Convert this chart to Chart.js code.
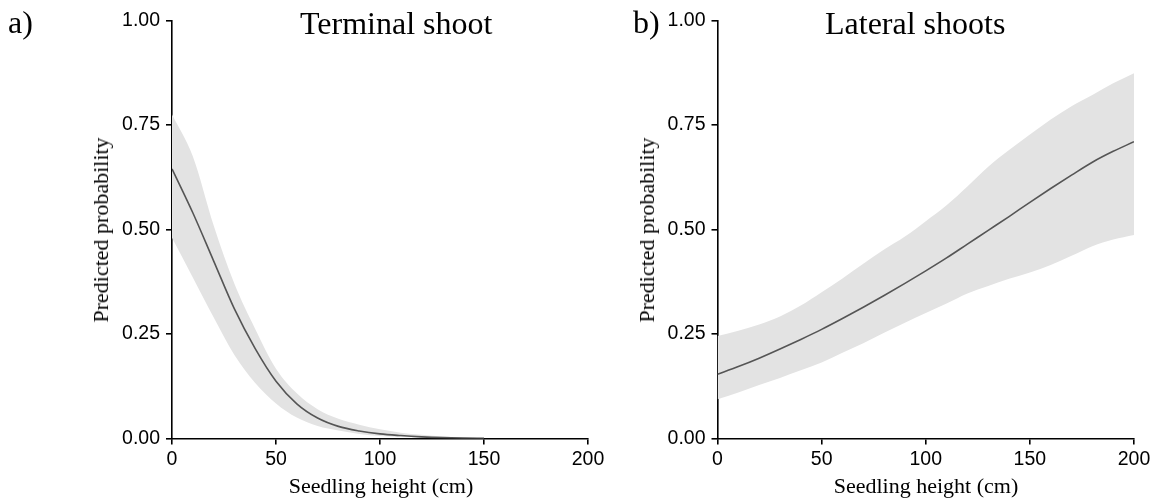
<!DOCTYPE html>
<html>
<head>
<meta charset="utf-8">
<script src="https://cdn.jsdelivr.net/npm/chart.js@4.4.1/dist/chart.umd.min.js"></script>
<style>
  html, body { margin: 0; padding: 0; background: #ffffff; }
  #wrap { position: relative; width: 1157px; height: 501px; overflow: hidden; background: #fff; }
  canvas { position: absolute; top: 0; }
  .txt { position: absolute; font-family: "Liberation Serif", "Times New Roman", serif; color: #000; line-height: 1; white-space: nowrap; }
  .ttl { font-size: 32px; }
  .axt { font-size: 22px; }
</style>
</head>
<body>
<div id="wrap">
  <canvas id="c1" width="620" height="501" style="left:0px"></canvas>
  <canvas id="c2" width="597" height="501" style="left:560px"></canvas>
  <div class="txt ttl" style="left:8px; top:5.7px;">a)</div>
  <div class="txt ttl" style="left:300px; top:6.5px;">Terminal shoot</div>
  <div class="txt ttl" style="left:633px; top:5.7px;">b)</div>
  <div class="txt ttl" style="left:825px; top:6.5px;">Lateral shoots</div>
  <div class="txt axt" style="left:381px; top:474.6px; transform:translateX(-50%);">Seedling height (cm)</div>
  <div class="txt axt" style="left:926px; top:474.6px; transform:translateX(-50%);">Seedling height (cm)</div>
  <div class="txt axt" style="left:100.9px; top:229.8px; transform:translate(-50%,-50%) rotate(-90deg);">Predicted probability</div>
  <div class="txt axt" style="left:646.6px; top:229.8px; transform:translate(-50%,-50%) rotate(-90deg);">Predicted probability</div>
</div>
<script>
// ---- Data ----
const xTicks = [0, 50, 100, 150, 200];
const yTicks = [0, 0.25, 0.5, 0.75, 1.0];

// a) Terminal shoot
const termX     = [0, 10, 20, 30, 40, 50, 60, 70, 80, 90, 100, 110, 120, 130, 140, 150];
const termFit   = [0.645, 0.54, 0.425, 0.31, 0.215, 0.137, 0.083, 0.049, 0.029, 0.018, 0.011, 0.007, 0.004, 0.002, 0.001, 0.0005];
const termUpper = [0.775, 0.675, 0.51, 0.37, 0.262, 0.167, 0.108, 0.07, 0.047, 0.033, 0.022, 0.014, 0.009, 0.005, 0.003, 0.0015];
const termLower = [0.48, 0.385, 0.29, 0.2, 0.133, 0.084, 0.05, 0.03, 0.019, 0.011, 0.006, 0.0035, 0.002, 0.001, 0.0005, 0.0002];

// b) Lateral shoots
const latX     = [0, 10, 20, 30, 40, 50, 60, 70, 80, 90, 100, 110, 120, 130, 140, 150, 160, 170, 180, 190, 200];
const latFit   = [0.154, 0.172, 0.192, 0.214, 0.237, 0.261, 0.287, 0.314, 0.342, 0.371, 0.401, 0.432, 0.465, 0.498, 0.531, 0.565, 0.598, 0.63, 0.661, 0.687, 0.71];
const latUpper = [0.245, 0.258, 0.273, 0.292, 0.318, 0.35, 0.383, 0.418, 0.452, 0.483, 0.52, 0.558, 0.603, 0.65, 0.69, 0.727, 0.763, 0.795, 0.822, 0.85, 0.874];
const latLower = [0.094, 0.11, 0.128, 0.145, 0.163, 0.182, 0.205, 0.228, 0.253, 0.277, 0.3, 0.323, 0.347, 0.365, 0.382, 0.397, 0.415, 0.437, 0.46, 0.476, 0.487];

// ---- Chart construction ----
const pts = (xs, ys) => xs.map((x, i) => ({ x: x, y: ys[i] }));
const tickFont = { family: '"Liberation Sans", Arial, sans-serif', size: 19.5 };
const BAND = '#e3e3e3';
const LINE = '#555555';

function makeChart(id, xs, fit, up, lo, pad) {
  return new Chart(document.getElementById(id), {
    type: 'line',
    data: {
      datasets: [
        { data: pts(xs, fit), borderWidth: 1.6, borderColor: LINE, fill: false, pointRadius: 0, cubicInterpolationMode: 'monotone', order: 0 },
        { data: pts(xs, up), borderWidth: 0, borderColor: BAND, backgroundColor: BAND, fill: '+1', pointRadius: 0, cubicInterpolationMode: 'monotone', order: 1 },
        { data: pts(xs, lo), borderWidth: 0, borderColor: BAND, backgroundColor: BAND, fill: false, pointRadius: 0, cubicInterpolationMode: 'monotone', order: 2 }
      ]
    },
    options: {
      responsive: false,
      animation: false,
      devicePixelRatio: 1,
      layout: { padding: pad },
      plugins: { legend: { display: false }, tooltip: { enabled: false }, title: { display: false } },
      events: [],
      scales: {
        x: {
          type: 'linear', min: 0, max: 200, z: 1,
          afterBuildTicks: (s) => { s.ticks = xTicks.map(v => ({ value: v })); },
          afterFit: (s) => { s.height = 40; },
          border: { display: true, color: '#000', width: 1.6 },
          grid: { drawOnChartArea: false, drawTicks: true, tickLength: 6, tickColor: '#000', lineWidth: 1.6 },
          ticks: { color: '#000', font: tickFont, padding: 3, maxRotation: 0, autoSkip: false, callback: (v) => String(v) }
        },
        y: {
          type: 'linear', min: 0, max: 1, z: 1,
          afterBuildTicks: (s) => { s.ticks = yTicks.map(v => ({ value: v })); },
          afterFit: (s) => { s.width = 70; },
          border: { display: true, color: '#000', width: 1.6 },
          grid: { drawOnChartArea: false, drawTicks: true, tickLength: 6, tickColor: '#000', lineWidth: 1.6 },
          ticks: { color: '#000', font: tickFont, padding: 6, autoSkip: false, callback: (v) => Number(v).toFixed(2) }
        }
      }
    }
  });
}

makeChart('c1', termX, termFit, termUpper, termLower, { left: 102, top: 20.5, right: 32, bottom: 22.5 });
makeChart('c2', latX, latFit, latUpper, latLower, { left: 87.5, top: 20.5, right: 23, bottom: 22.5 });
</script>
</body>
</html>
